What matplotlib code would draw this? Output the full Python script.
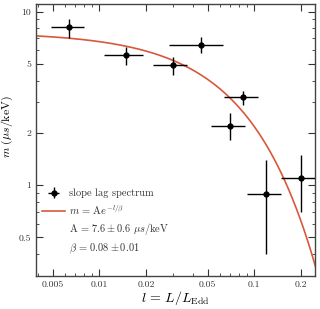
import numpy as np
import matplotlib
matplotlib.use("Agg")
import matplotlib.pyplot as plt
from matplotlib.lines import Line2D
from matplotlib.ticker import FixedLocator, FixedFormatter, LogLocator, NullFormatter

plt.rcParams['font.family'] = 'serif'
plt.rcParams['font.serif'] = ['cmr10']
plt.rcParams['mathtext.fontset'] = 'cm'
plt.rcParams['axes.formatter.use_mathtext'] = True

# data
l_vals = [0.0064, 0.0149, 0.0298, 0.0455, 0.085, 0.0697, 0.120, 0.200]
l_lo = [0.0049, 0.0107, 0.0223, 0.028, 0.0637, 0.0523, 0.090, 0.149]
l_hi = [0.0080, 0.0190, 0.037, 0.063, 0.1057, 0.0875, 0.149, 0.27]
m_vals = [8.1, 5.62, 4.91, 6.43, 3.2, 2.2, 0.895, 1.10]
m_lo = [7.08, 4.93, 4.31, 5.75, 2.9, 1.82, 0.40, 0.70]
m_hi = [9.1, 6.28, 5.5, 7.1, 3.5, 2.61, 1.39, 1.50]
A_fit = 7.6
beta_fit = 0.08
xticks = [0.005, 0.01, 0.02, 0.05, 0.1, 0.2]
xticklabels = ['0.005', '0.01', '0.02', '0.05', '0.1', '0.2']
yticks = [0.5, 1, 2, 5, 10]
yticklabels = ['0.5', '1', '2', '5', '10']

l = np.array(l_vals); m = np.array(m_vals)
xerr = [l - np.array(l_lo), np.array(l_hi) - l]
yerr = [m - np.array(m_lo), np.array(m_hi) - m]

fig = plt.figure(figsize=(3.2, 3.09), dpi=100)
ax = fig.add_axes([0.1125, 0.107, 0.872, 0.879])

lc = np.logspace(np.log10(0.004), np.log10(0.25), 300)
line, = ax.plot(lc, A_fit * np.exp(-lc / beta_fit), color='#d9573b', lw=1.2, zorder=2)
eb = ax.errorbar(l, m, xerr=xerr, yerr=yerr, fmt='o', color='black', ms=3.5,
                 elinewidth=1.0, capsize=0, zorder=3)

ax.set_xscale('log'); ax.set_yscale('log')
ax.set_xlim(0.0039, 0.247)
ax.set_ylim(0.3, 11)
ax.xaxis.set_major_locator(FixedLocator(xticks))
ax.xaxis.set_major_formatter(FixedFormatter(xticklabels))
ax.yaxis.set_major_locator(FixedLocator(yticks))
ax.yaxis.set_major_formatter(FixedFormatter(yticklabels))
ax.xaxis.set_minor_locator(LogLocator(base=10, subs=np.arange(1, 10)))
ax.yaxis.set_minor_locator(LogLocator(base=10, subs=np.arange(1, 10)))
ax.xaxis.set_minor_formatter(NullFormatter())
ax.yaxis.set_minor_formatter(NullFormatter())
ax.tick_params(which='both', direction='in', top=True, right=True, labelsize=7, colors='#333333')
ax.tick_params(which='major', length=5, width=0.8)
ax.tick_params(which='minor', length=2.5, width=0.6)
for s in ax.spines.values():
    s.set_color('#444444'); s.set_linewidth(1.0)

ax.set_xlabel(r'$l\, =\, L/L_{\mathrm{Edd}}$', fontsize=10, labelpad=0)
ax.set_ylabel(r'$m\ (\mu s/\mathrm{keV})$', fontsize=8.5, labelpad=1)
ax.yaxis.set_label_coords(-0.075, 0.55)

blank = Line2D([], [], linestyle='none', marker=None)
leg = ax.legend([eb, line, blank, blank],
                ['slope lag spectrum', r'$m\, =\, \mathrm{A}e^{-l/\beta}$',
                 r'$\mathrm{A}\, =\, 7.6 \pm 0.6\ \mu s/\mathrm{keV}$',
                 r'$\beta\, =\, 0.08 \pm 0.01$'],
                loc='lower left', bbox_to_anchor=(-0.015, 0.035), frameon=False,
                fontsize=7.5, handlelength=2.2, labelspacing=0.42, handletextpad=0.4,
                borderaxespad=0.6)
for t in leg.get_texts():
    t.set_color('#333333')

fig.savefig('out.png', dpi=100)
